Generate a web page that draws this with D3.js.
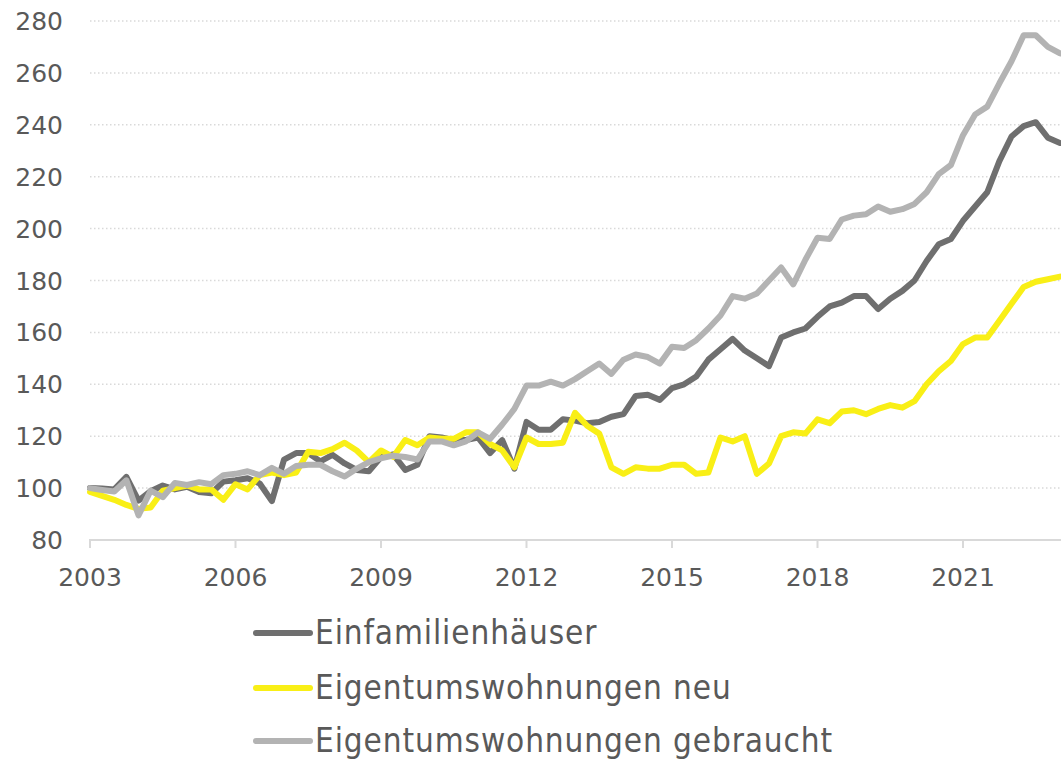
<!DOCTYPE html>
<html>
<head>
<meta charset="utf-8">
<script src="https://cdn.jsdelivr.net/npm/d3@7"></script>
<style>
body{margin:0;background:#fff;}
text{fill:#595959;}
</style>
</head>
<body>
<svg id="screen" width="1061" height="760"></svg>
<script>
// quarterly index values, 2003 Q1 .. 2023 Q1 (2003 = 100)
var startYear = 2003;
var einfamilienhaeuser = [100,99.8,99.5,104.3,95.2,98.8,101,99.5,100.5,98.5,98,102.5,103,103.8,101.8,95,
  111,113.5,113.5,110.3,112.8,109.5,107,106.5,112,113,107,109,120,119.5,118.5,118.5,119.5,113.5,118.5,107.5,
  125.5,122.5,122.5,126.5,126,125,125.5,127.5,128.5,135.5,136,134,138.5,140,143,149.5,153.5,157.5,153,150,
  147,158,160,161.5,166,170,171.5,174,174,169,173,176,180,187.5,194,196,203,208.5,214,226,235.5,239.5,241,235,233];
var etwNeu = [98.5,97,95.5,93.5,92,92.5,99,100,101,99.5,99.5,95.5,101.5,99.5,105,106,
  105,106,114,113.5,115,117.5,114.5,110,114.5,112,118.5,116.5,119.5,119,119,121.5,121.5,117,114.5,108,
  119.5,117,117,117.5,129,124,121,108,105.5,108,107.5,107.5,109,109,105.5,106,119.5,118,120,105.5,
  109.5,120,121.5,121,126.5,125,129.5,130,128.5,130.5,132,131,133.5,140,145,149,155.5,158,158,164.5,171,177.5,179.5,180.5,181.5];
var etwGebraucht = [100,99.3,98.7,103,89.5,99,96.5,102,101.2,102.3,101.5,105,105.5,106.5,105,107.8,
  105.5,108.5,109,109,106.5,104.5,107.5,110,111.5,112.5,112,111,118,118,116.5,118,121.5,119,124.5,130.5,
  139.5,139.5,141,139.5,142,145,148,144,149.5,151.5,150.5,148,154.5,154,157,161.5,166.5,174,173,175,
  180,185,178.5,188,196.5,196,203.5,205,205.5,208.5,206.5,207.5,209.5,214,221,224.5,236,244,247,256,264.5,274.5,274.5,270,267.5];

var seriesNames = ["Einfamilienhäuser","Eigentumswohnungen neu","Eigentumswohnungen gebraucht"];
var seriesColors = ["#6f6f6f","#f9ef16","#b3b3b3"];
var yTicks = [80,100,120,140,160,180,200,220,240,260,280];
var xTicks = [2003,2006,2009,2012,2015,2018,2021];

var svg = d3.select("#screen");
var x = d3.scaleLinear().domain([2003,2023]).range([90,1060]);
var y = d3.scaleLinear().domain([80,280]).range([540,21]);

// dotted gridlines
svg.selectAll("line.grid").data(yTicks.slice(1)).enter().append("line")
  .attr("class","grid")
  .attr("x1",90).attr("x2",1061)
  .attr("y1",function(d){return y(d);}).attr("y2",function(d){return y(d);})
  .attr("stroke","#d9d9d9").attr("stroke-width",1.5).attr("stroke-dasharray","1.5,2.5");

// y labels
svg.selectAll("text.ylab").data(yTicks).enter().append("text")
  .attr("class","ylab")
  .attr("x",63).attr("y",function(d){return y(d);})
  .attr("dy","0.36em").attr("text-anchor","end")
  .style("font-family","'DejaVu Sans'").style("font-size","25px")
  .text(function(d){return d;});

// x axis line, ticks and labels
svg.append("line").attr("x1",89).attr("x2",1061).attr("y1",540).attr("y2",540)
  .attr("stroke","#d9d9d9").attr("stroke-width",2);
svg.selectAll("line.xtick").data(xTicks).enter().append("line")
  .attr("class","xtick")
  .attr("x1",function(d){return x(d);}).attr("x2",function(d){return x(d);})
  .attr("y1",540).attr("y2",548)
  .attr("stroke","#d9d9d9").attr("stroke-width",2);
svg.selectAll("text.xlab").data(xTicks).enter().append("text")
  .attr("class","xlab")
  .attr("x",function(d){return x(d);}).attr("y",586)
  .attr("text-anchor","middle")
  .style("font-family","'DejaVu Sans'").style("font-size","25px")
  .text(function(d){return d;});

// lines
var line = d3.line()
  .x(function(d,i){return x(startYear + i/4);})
  .y(function(d){return y(d);});

var allSeries = [einfamilienhaeuser, etwNeu, etwGebraucht];
svg.selectAll("path.series").data(allSeries).enter().append("path")
  .attr("class","series")
  .attr("d",line)
  .attr("fill","none")
  .attr("stroke",function(d,i){return seriesColors[i];})
  .attr("stroke-width",6)
  .attr("stroke-linejoin","round")
  .attr("stroke-linecap","round");

// legend
var legendY = [633,688,741];
var legend = svg.selectAll("g.leg").data(seriesNames).enter().append("g")
  .attr("class","leg")
  .attr("transform",function(d,i){return "translate(0,"+legendY[i]+")";});
legend.append("line").attr("x1",256).attr("x2",310).attr("y1",0).attr("y2",0)
  .attr("stroke",function(d,i){return seriesColors[i];})
  .attr("stroke-width",6).attr("stroke-linecap","round");
legend.append("text").attr("x",315).attr("y",0).attr("dy","0.34em")
  .style("font-family","'DejaVu Sans Condensed','DejaVu Sans'")
  .style("font-stretch","condensed")
  .style("font-size","33px")
  .style("letter-spacing","0.9px")
  .text(function(d){return d;});
</script>
</body>
</html>
